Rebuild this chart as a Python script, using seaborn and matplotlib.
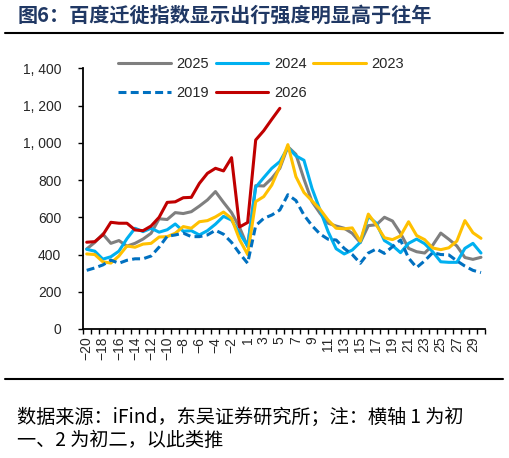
import numpy as np
import pandas as pd
import matplotlib
matplotlib.use("Agg")
import matplotlib.pyplot as plt
from matplotlib.lines import Line2D
import seaborn as sns

# ---------------- data ----------------
days = list(range(-20, 0)) + list(range(1, 31))
tick_labels = [str(d).replace('-', '\u2212') for d in days]

y2025 = [430, 465, 510, 460, 475, 445, 460, 483, 514, 592,
         588, 625, 620, 630, 660, 693, 738, 680, 625, 545,
         442, 770, 768, 809, 863, 979, 938, 805, 684, 621,
         568, 553, 541, 514, 464, 555, 560, 600, 580, 514,
         433, 415, 408, 450, 515, 482, 446, 384, 374, 385]
y2024 = [428, 418, 375, 388, 418, 485, 541, 523, 541, 520,
         533, 564, 525, 528, 505, 528, 563, 605, 585, 514,
         446, 761, 813, 863, 899, 975, 930, 906, 755, 639,
         523, 431, 403, 424, 466, 605, 568, 475, 448, 410,
         460, 483, 458, 415, 361, 358, 358, 433, 460, 408]
y2023 = [403, 400, 361, 354, 392, 446, 439, 456, 460, 494,
         496, 514, 550, 541, 576, 582, 602, 628, 594, 480,
         400, 684, 711, 773, 872, 990, 818, 733, 688, 643,
         585, 541, 538, 543, 471, 617, 558, 490, 480, 500,
         576, 502, 480, 435, 426, 436, 472, 582, 517, 487]
y2019 = [315, 328, 344, 370, 353, 369, 377, 377, 392, 440,
         498, 505, 515, 496, 496, 505, 530, 509, 465, 406,
         353, 555, 594, 612, 639, 721, 690, 612, 555, 510,
         482, 478, 433, 400, 353, 408, 430, 406, 442, 478,
         381, 330, 366, 410, 400, 398, 366, 338, 315, 303]
y2026 = [466, 469, 505, 573, 568, 568, 532, 528, 553, 600,
         680, 683, 705, 707, 782, 836, 863, 849, 920, 548,
         572, 1015, 1065, 1126, 1185]

years = ['2025', '2024', '2023', '2019', '2026']
series = {'2025': y2025, '2024': y2024, '2023': y2023, '2019': y2019, '2026': y2026}
yticks = [0, 200, 400, 600, 800, 1000, 1200, 1400]

colors = {'2025': '#7F7F7F', '2024': '#00B0F0', '2023': '#FFC000',
          '2019': '#0070C0', '2026': '#C00000'}
dashes = {'2025': '', '2024': '', '2023': '', '2019': (2.6, 1.4), '2026': ''}

rows = []
for yr in years:
    for i, v in enumerate(series[yr]):
        rows.append({'pos': i, 'day': days[i], 'value': v, 'year': yr})
df = pd.DataFrame(rows)

# ---------------- style ----------------
sns.set_style('ticks')
plt.rcParams['font.family'] = ['Liberation Sans', 'Noto Sans CJK SC', 'DejaVu Sans']

W, H = 510, 458
fig = plt.figure(figsize=(W / 100, H / 100), dpi=100)
ax = fig.add_axes([82.7 / W, (H - 329) / H, (485 - 82.7) / W, (329 - 68.3) / H])

sns.lineplot(data=df, x='pos', y='value', hue='year', style='year',
             hue_order=years, style_order=years, palette=colors, dashes=dashes,
             linewidth=2.2, estimator=None, errorbar=None, legend=False, ax=ax)

ax.set_xlim(-0.5, len(days) - 0.5)
ax.set_ylim(0, 1400)
ax.set_xlabel('')
ax.set_ylabel('')

ax.set_xticks(np.arange(-0.5, len(days), 1.0))
ax.set_xticklabels([])
ax.set_xticks(np.arange(0, len(days), 2), minor=True)
ax.set_xticklabels(tick_labels[::2], minor=True, rotation=90)
ax.tick_params(axis='x', which='major', length=3.5, width=1.0, direction='out', color='black')
ax.tick_params(axis='x', which='minor', length=0, pad=5.5, labelsize=10)

ax.set_yticks(yticks)
ax.set_yticklabels([f'{v:,}'.replace(',', ', ') for v in yticks])
ax.tick_params(axis='y', length=3.5, width=1.0, direction='out', pad=12, labelsize=10, color='black')

for s in ['top', 'right']:
    ax.spines[s].set_visible(False)
for s in ['left', 'bottom']:
    ax.spines[s].set_linewidth(1.3)
    ax.spines[s].set_color('black')

# legend (row-major order via column ordering)
leg_order = ['2025', '2019', '2024', '2026', '2023']
handles = [Line2D([0], [0], color=colors[y], lw=2.2,
                  dashes=(2.6, 1.4) if y == '2019' else (None, None),
                  linestyle='--' if y == '2019' else '-') for y in leg_order]
fig.legend(handles, leg_order, ncol=3, loc='upper left',
           bbox_to_anchor=(118 / W, 1 - 57.5 / H), frameon=False,
           handlelength=3.6, handletextpad=0.4, columnspacing=0.45,
           labelspacing=1.0, fontsize=10.5, borderpad=0, borderaxespad=0)

# title and rules
cjk = ['Noto Sans CJK SC', 'DejaVu Sans']
fig.text(18 / W, 1 - 15 / H, '图6：百度迁徙指数显示出行强度明显高于往年',
         ha='left', va='center', fontsize=14.5, fontweight='bold',
         color='#203864', family=cjk)
fig.add_artist(Line2D([5 / W, 503 / W], [1 - 33 / H, 1 - 33 / H],
                      color='black', lw=1.5, transform=fig.transFigure))
fig.add_artist(Line2D([5 / W, 503 / W], [1 - 379 / H, 1 - 379 / H],
                      color='black', lw=1.5, transform=fig.transFigure))
fig.text(17 / W, 1 - 417 / H, '数据来源：iFind，东吴证券研究所；注：横轴 1 为初',
         ha='left', va='center', fontsize=13.8, color='black', family=cjk)
fig.text(17 / W, 1 - 440 / H, '一、2 为初二，以此类推',
         ha='left', va='center', fontsize=13.8, color='black', family=cjk)

fig.savefig('out.png', dpi=100)
